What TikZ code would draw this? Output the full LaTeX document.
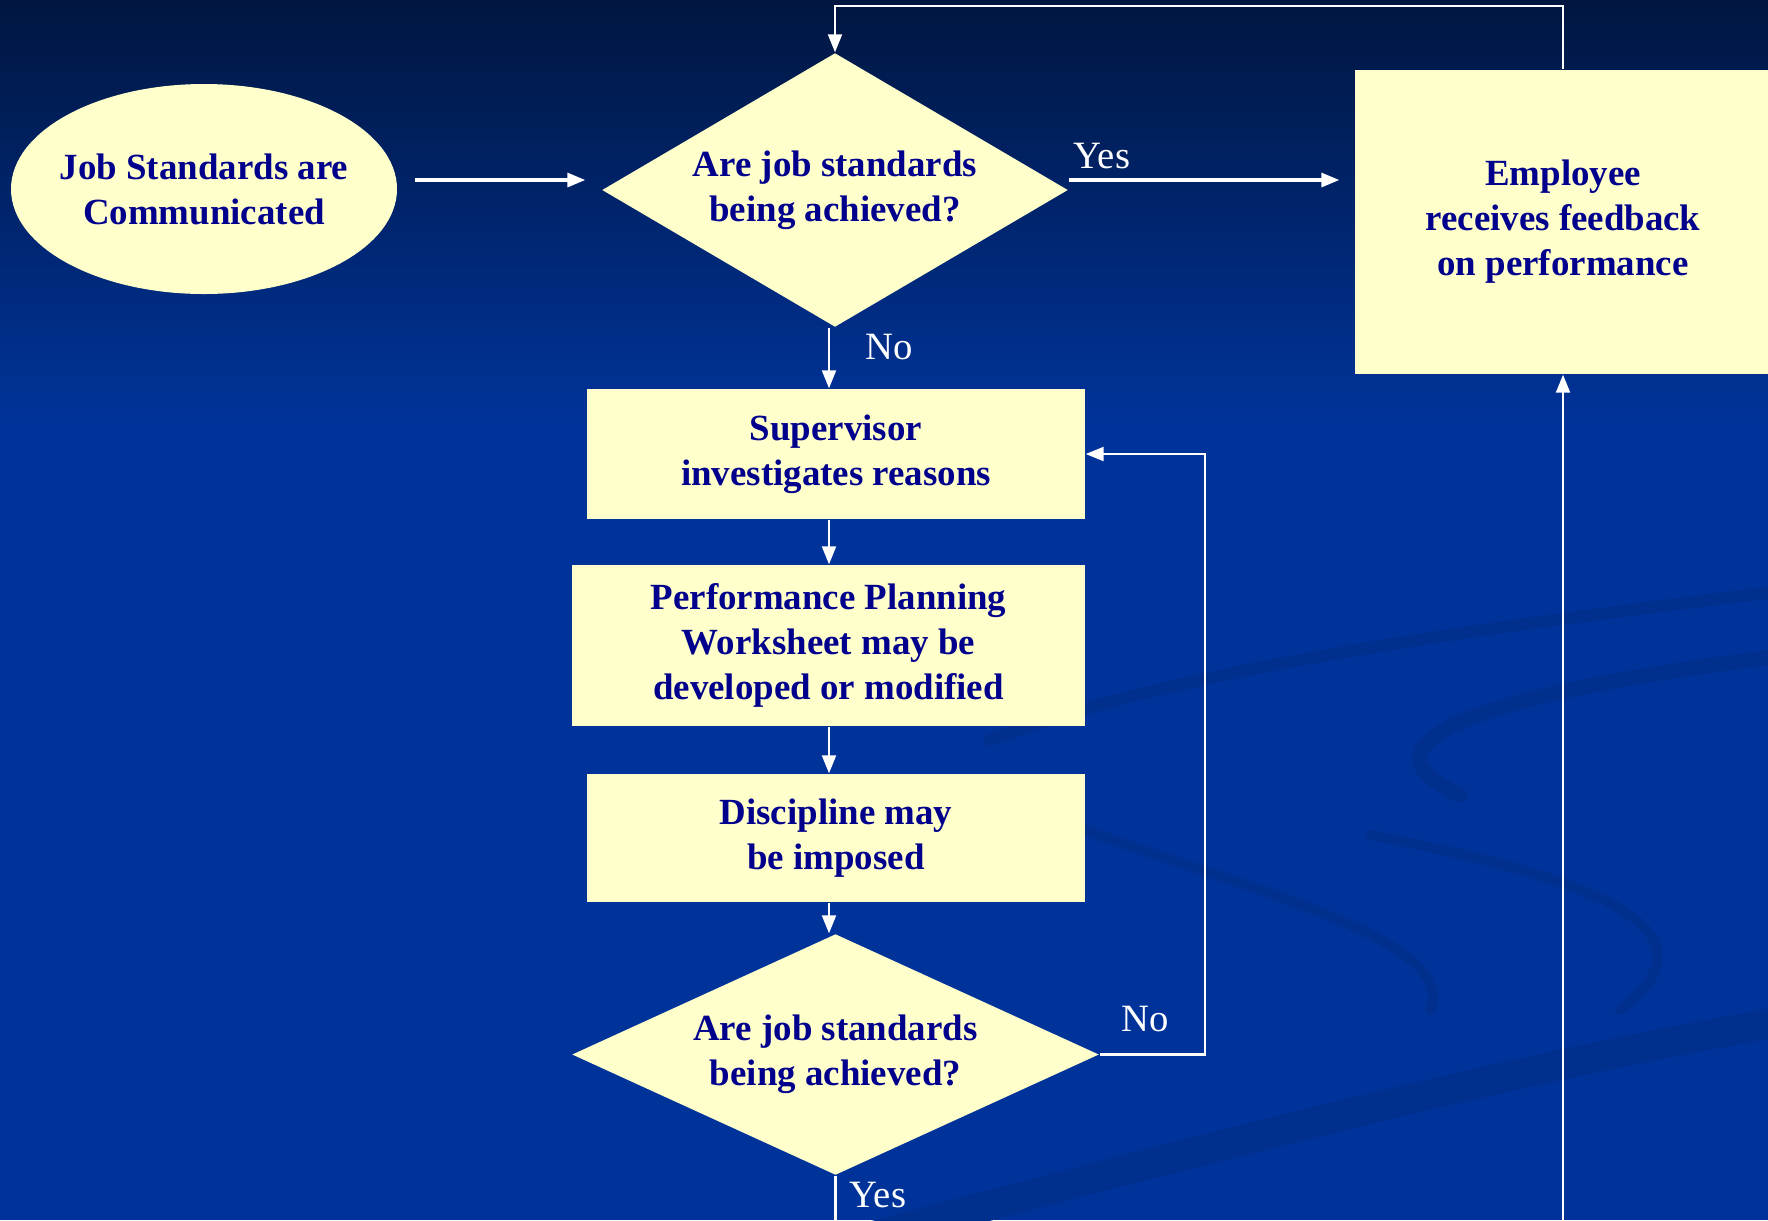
\documentclass[tikz,border=0pt]{standalone}
\usepackage{fontspec}
\setmainfont{Liberation Serif}
\usepackage{tikz}
\usetikzlibrary{arrows.meta}
\usetikzlibrary{shapes.geometric}

\definecolor{bgtop}{RGB}{0,22,64}
\definecolor{bgblue}{RGB}{0,51,153}
\definecolor{swoosh}{RGB}{0,47,142}
\definecolor{boxfill}{RGB}{255,255,204}
\definecolor{boxtext}{RGB}{0,0,140}

\tikzset{
  shapetext/.style={fill=boxfill, text=boxtext, align=center, inner sep=0pt,
    font=\fontsize{10.5}{12.8}\selectfont\bfseries},
  procbox/.style={shapetext, rectangle},
  decision/.style={shapetext, diamond},
  terminal/.style={shapetext, ellipse, inner xsep=-0.1cm},
  arr/.style={draw=white, line width=0.6pt, -{Triangle[length=0.18cm,width=0.14cm]}},
  wideline/.style={arr, line width=0.9pt},
  plainline/.style={draw=white, line width=0.6pt},
  lbl/.style={text=white, font=\fontsize{11}{13}\selectfont, inner sep=0pt},
  band/.style={draw=swoosh, line cap=round}
}

\begin{document}
\begin{tikzpicture}[x=1cm, y=-1cm]
    \useasboundingbox (0,0) rectangle (17.68,12.2);
    \fill[top color=bgtop, bottom color=bgblue] (0,0) rectangle (17.68,4.2);
    \fill[bgblue] (0,4.2) rectangle (17.68,12.2);

    \draw[band, line width=0.3cm] (8.2,12.5) .. controls (12,11.5) and (15,10.7) .. (17.9,10.2);
    \draw[band, line width=0.12cm] (9.9,7.4) .. controls (12,6.6) and (15.5,6.2) .. (17.9,5.9);
    \draw[band, line width=0.15cm] (17.9,6.55) .. controls (15,6.9) and (13.4,7.4) .. (14.6,7.95);
    \draw[band, line width=0.1cm] (10.85,8.3) .. controls (12.5,8.9) and (14.6,9.4) .. (14.3,10.1);
    \draw[band, line width=0.1cm] (13.7,8.35) .. controls (15.5,8.7) and (17.4,9.2) .. (16.2,10.1);

    \node[terminal, minimum width=3.86cm, minimum height=2.10cm] (job) at (2.04,1.89)
      {Job Standards are\\Communicated};
    \node[decision, aspect=1.7, minimum width=4.66cm, minimum height=2.74cm] (ask1) at (8.35,1.90)
      {Are job standards\\being achieved?};
    \node[procbox, minimum width=4.16cm, minimum height=3.04cm] (emp) at (15.63,2.22)
      {Employee\\receives feedback\\on performance};
    \node[procbox, minimum width=4.98cm, minimum height=1.30cm] (sup) at (8.36,4.54)
      {Supervisor\\investigates reasons};
    \node[procbox, minimum width=5.13cm, minimum height=1.61cm] (plan) at (8.285,6.455)
      {Performance Planning\\Worksheet may be\\developed or modified};
    \node[procbox, minimum width=4.98cm, minimum height=1.28cm] (disc) at (8.36,8.38)
      {Discipline may\\be imposed};
    \node[decision, aspect=2.19, minimum width=5.27cm, minimum height=2.41cm] (ask2) at (8.355,10.545)
      {Are job standards\\being achieved?};

    \coordinate (rowy) at (0,1.80);
    \coordinate (colx) at (8.29,0);
    \coordinate (topy) at (0,0.06);
    \coordinate (loopx) at (12.05,0);
    \coordinate (edge) at (0,12.25);

    \draw[wideline, shorten <=0.17cm, shorten >=0.16cm] (job.east |- rowy) -- (ask1.west |- rowy);
    \draw[wideline, shorten >=0.15cm] (ask1.east |- rowy) -- (emp.west |- rowy);
    \draw[arr] (emp.north) -- (emp.north |- topy) -| (ask1.north);
    \draw[arr] (ask1.south -| colx) -- (sup.north -| colx);
    \draw[arr] (sup.south -| colx) -- (plan.north -| colx);
    \draw[arr] (plan.south -| colx) -- (disc.north -| colx);
    \draw[arr] (disc.south -| colx) -- (ask2.north -| colx);
    \draw[arr] (ask2.east) -- (ask2.east -| loopx) |- (sup.east);
    \draw[plainline] (ask2.south) -- (ask2.south |- edge);
    \draw[arr] (emp.south |- edge) -- (emp.south);

    \node[lbl] (yes1) at (11.02,1.56) {Yes};
    \node[lbl] (no1) at (8.89,3.47) {No};
    \node[lbl] (no2) at (11.45,10.19) {No};
    \node[lbl] (yes2) at (8.78,11.95) {Yes};
\end{tikzpicture}
\end{document}
